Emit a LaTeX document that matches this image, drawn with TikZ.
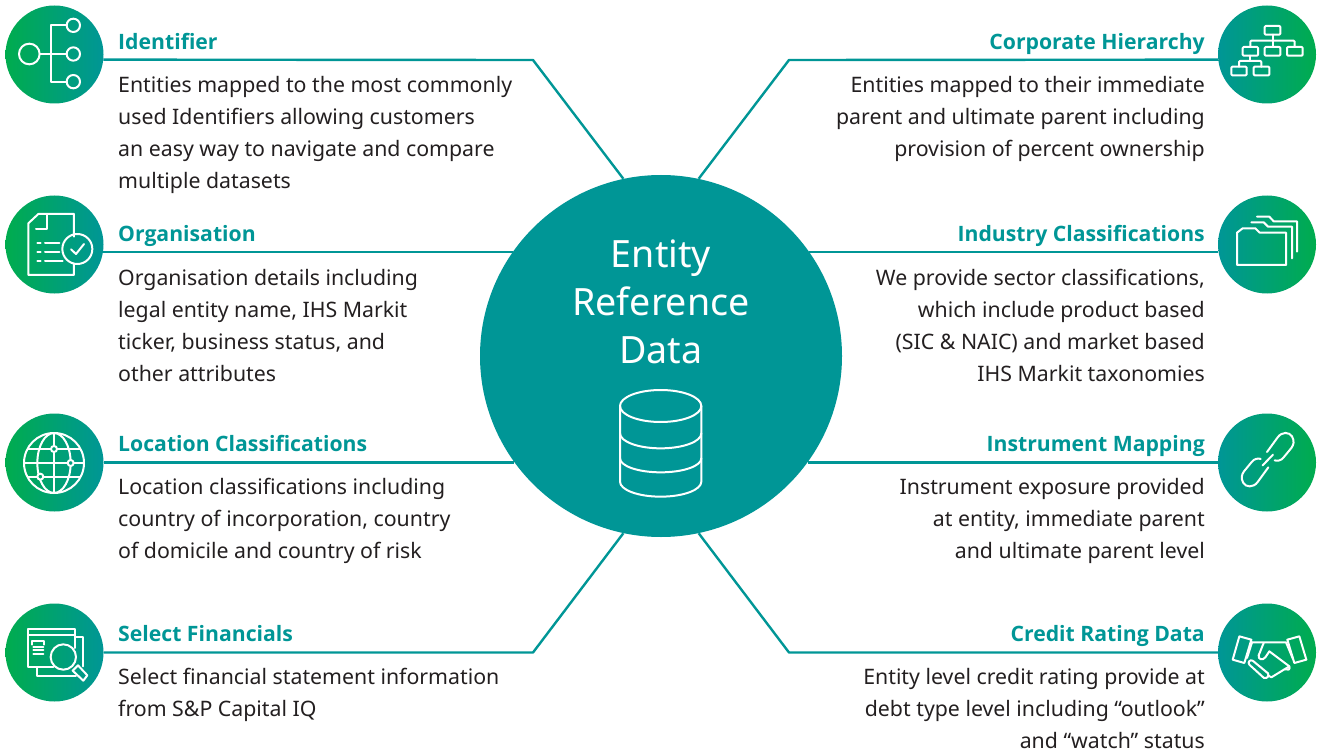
\documentclass[tikz,border=0pt]{standalone}
\usepackage{fontspec}
\setmainfont{Noto Sans}
\newfontfamily\markhead{Open Sans}
\definecolor{markteal}{RGB}{0,150,150}
\definecolor{markgreen}{RGB}{0,172,78}
\definecolor{markink}{RGB}{35,31,32}
\tikzset{
  ballleft/.style={circle,minimum size=98pt,inner sep=0pt,left color=markgreen,right color=markteal},
  ballright/.style={circle,minimum size=98pt,inner sep=0pt,left color=markteal,right color=markgreen},
  headleft/.style={anchor=base west,inner sep=0pt,text=markteal,font=\fontsize{21.2}{26}\markhead\bfseries},
  headright/.style={anchor=base east,inner sep=0pt,text=markteal,font=\fontsize{21.2}{26}\markhead\bfseries},
  bodyleft/.style={anchor=north west,inner sep=0pt,align=left,text=markink,font=\fontsize{21.3}{32}\selectfont},
  bodyright/.style={anchor=north east,inner sep=0pt,align=right,text=markink,font=\fontsize{21.3}{32}\selectfont},
  link/.style={draw=markteal,line width=2.4pt,line join=round},
  glyph/.style={draw=white,line width=2pt,line join=round,line cap=round},
  pin/.style={draw=white,line width=2pt}
}
\begin{document}
\begin{tikzpicture}[x=1pt,y=-1pt]
\useasboundingbox (0,0) rectangle (1320,754);
\node[circle,minimum size=362pt,inner sep=0pt,fill=markteal] (hub) at (661,356) {};
\node[ballleft] (identifier) at (54.5,54.5) {};
\node[ballleft] (organisation) at (54.5,244.5) {};
\node[ballleft] (location) at (54.5,462.5) {};
\node[ballleft] (financials) at (54.5,652.5) {};
\node[ballright] (hierarchy) at (1267,54.5) {};
\node[ballright] (industry) at (1267,244.5) {};
\node[ballright] (instrument) at (1267,462.5) {};
\node[ballright] (credit) at (1267,652.5) {};
\coordinate (identifierbend) at (533,60);
\coordinate (financialsbend) at (533,652.5);
\coordinate (hierarchybend) at (789,60);
\coordinate (creditbend) at (789,652.5);
\draw[link] (identifier.-6.4) -- (identifierbend) -- (hub.102);
\draw[link] (organisation.-9.5) -- (organisation.-9.5 -| hub.145);
\draw[link] (location.-0.6) -- (location.-0.6 -| hub.216);
\draw[link] (financials.0) -- (financialsbend) -- (hub.258);
\draw[link] (hierarchy.186.4) -- (hierarchybend) -- (hub.78);
\draw[link] (industry.189.5) -- (industry.189.5 -| hub.35);
\draw[link] (instrument.180.6) -- (instrument.180.6 -| hub.-36);
\draw[link] (credit.180) -- (creditbend) -- (hub.-78);
\node[headleft] (identifierhead) at (118,50) {Identifier};
\node[headleft] (organisationhead) at (118,242) {Organisation};
\node[headleft] (locationhead) at (118,451) {Location Classifications};
\node[headleft] (financialshead) at (118,641) {Select Financials};
\node[headright] (hierarchyhead) at (1205,50) {Corporate Hierarchy};
\node[headright] (industryhead) at (1205,242) {Industry Classifications};
\node[headright] (instrumenthead) at (1205,451) {Instrument Mapping};
\node[headright] (credithead) at (1205,641) {Credit Rating Data};
\node[bodyleft] (identifiertext) at (118,76) {Entities mapped to the most commonly\\used Identifiers allowing customers\\an easy way to navigate and compare\\multiple datasets};
\node[bodyleft] (organisationtext) at (118,269) {Organisation details including\\legal entity name, IHS Markit\\ticker, business status, and\\other attributes};
\node[bodyleft] (locationtext) at (118,478) {Location classifications including\\country of incorporation, country\\of domicile and country of risk};
\node[bodyleft] (financialstext) at (118,668) {Select financial statement information\\from S\&P Capital IQ};
\node[bodyright] (hierarchytext) at (1205,76) {Entities mapped to their immediate\\parent and ultimate parent including\\provision of percent ownership};
\node[bodyright] (industrytext) at (1205,269) {We provide sector classifications,\\which include product based\\(SIC \& NAIC) and market based\\IHS Markit taxonomies};
\node[bodyright] (instrumenttext) at (1205,478) {Instrument exposure provided\\at entity, immediate parent\\and ultimate parent level};
\node[bodyright] (credittext) at (1205,668) {Entity level credit rating provide at\\debt type level including “outlook”\\and “watch” status};
\node[anchor=north,inner sep=0pt,align=center,text=white,font=\fontsize{37.6}{48}\selectfont] (hubtitle) at (661,240) {Entity\\Reference\\Data};
\begin{scope}[shift={(590,370)},scale=1/3,glyph,line width=2pt]
\draw (212,108) ellipse (122 and 48);
\draw (90,108) -- (90,335) arc (180:0:122 and 45) -- (334,108);
\draw (90,190) arc (180:0:122 and 45);
\draw (90,265) arc (180:0:122 and 42);
\end{scope}
\begin{scope}[scale=1/3,glyph]
\draw (88,162) circle (31);
\draw (119,162) -- (200,162);
\draw (220,76) circle (20);
\draw (220,162) circle (20);
\draw (220,245) circle (20);
\draw (200,76) -- (152,76) -- (152,245) -- (200,245);
\end{scope}
\begin{scope}[shift={(0,190)},scale=1/3,glyph]
\draw (222,140) -- (222,72) -- (115,72) -- (85,100) -- (85,255) -- (222,255) -- (222,222);
\draw (140,72) -- (140,116) -- (108,116);
\draw (232,177) circle (45);
\draw (213,178) -- (228,192) -- (252,162);
\draw (135,160) -- (178,160);
\draw (135,187) -- (178,187);
\draw (135,213) -- (188,213);
\draw (112,160) -- (122,160);
\draw (112,187) -- (122,187);
\draw (112,213) -- (122,213);
\end{scope}
\begin{scope}[shift={(0,408)},scale=1/3,glyph]
\draw (162,165) circle (90);
\draw (162,75) -- (162,255);
\draw (162,75) arc (-90:90:50 and 90);
\draw (162,75) arc (270:90:50 and 90);
\draw (85,123) -- (239,123);
\draw (72,165) -- (252,165);
\draw (85,206) -- (239,206);
\draw[pin,fill=markgreen!50!markteal] (162,123) circle (9);
\draw[pin,fill=markgreen!30!markteal] (212,165) circle (9);
\draw[pin,fill=markgreen!60!markteal] (121,206) circle (9);
\end{scope}
\begin{scope}[shift={(0,598)},scale=1/3,glyph]
\draw (225,150) -- (225,93) -- (85,93) -- (85,208) -- (160,208);
\draw (85,110) -- (225,110);
\draw (225,118) -- (250,118) -- (250,205);
\draw (110,208) -- (110,235) -- (228,235);
\draw (190,177) circle (38);
\draw (224,212) -- (234,202) -- (262,232) -- (250,248) -- (218,218) -- cycle;
\draw (97,140) -- (97,130) -- (132,130) -- (132,140);
\draw (100,148) -- (130,148);
\draw (100,157) -- (130,157);
\draw (100,167) -- (130,167);
\end{scope}
\begin{scope}[shift={(1212,0)},scale=1/3,glyph,rounded corners=1pt]
\draw (158,78) rectangle (205,104);
\draw (92,141) rectangle (138,167);
\draw (158,141) rectangle (205,167);
\draw (225,141) rectangle (272,167);
\draw (58,200) rectangle (104,226);
\draw (125,200) rectangle (172,226);
\draw (182,104) -- (182,141);
\draw (115,141) -- (115,122) -- (248,122) -- (248,141);
\draw (115,167) -- (115,183);
\draw (81,200) -- (81,183) -- (148,183) -- (148,200);
\end{scope}
\begin{scope}[shift={(1212,190)},scale=1/3,glyph]
\draw (75,225) -- (75,128) -- (92,115) -- (130,115) -- (143,128) -- (222,128) -- (222,225) -- cycle;
\draw (118,97) -- (155,97) -- (168,110) -- (240,110) -- (240,205);
\draw (135,80) -- (172,80) -- (185,94) -- (255,94) -- (255,185);
\end{scope}
\begin{scope}[shift={(1212,408)},scale=1/3,glyph]
\draw (165,132) -- (197,88) .. controls (210,70) and (232,72) .. (240,85) .. controls (248,100) and (245,110) .. (238,120) -- (215,148) .. controls (208,158) and (195,160) .. (188,157);
\draw (169,178) -- (137,222) .. controls (124,240) and (102,238) .. (94,225) .. controls (86,210) and (89,200) .. (96,190) -- (119,162) .. controls (126,152) and (139,150) .. (146,153);
\draw (152,172) -- (183,140);
\end{scope}
\begin{scope}[shift={(1212,598)},scale=1/3,glyph]
\draw (82,115) -- (118,125) -- (97,195) -- (62,185) -- cycle;
\draw (226,125) -- (262,115) -- (283,185) -- (247,195) -- cycle;
\draw (120,133) -- (222,133) -- (243,183);
\draw (120,133) -- (105,180);
\draw (155,135) -- (140,172) .. controls (138,185) and (152,188) .. (160,178) -- (172,160) -- (232,205) .. controls (236,215) and (226,218) .. (220,214);
\draw (232,205) -- (178,238) -- (168,232);
\draw (122,188) -- (168,226) .. controls (172,234) and (166,242) .. (156,240) -- (112,200) .. controls (106,192) and (114,184) .. (122,188) -- cycle;
\end{scope}
\end{tikzpicture}
\end{document}
